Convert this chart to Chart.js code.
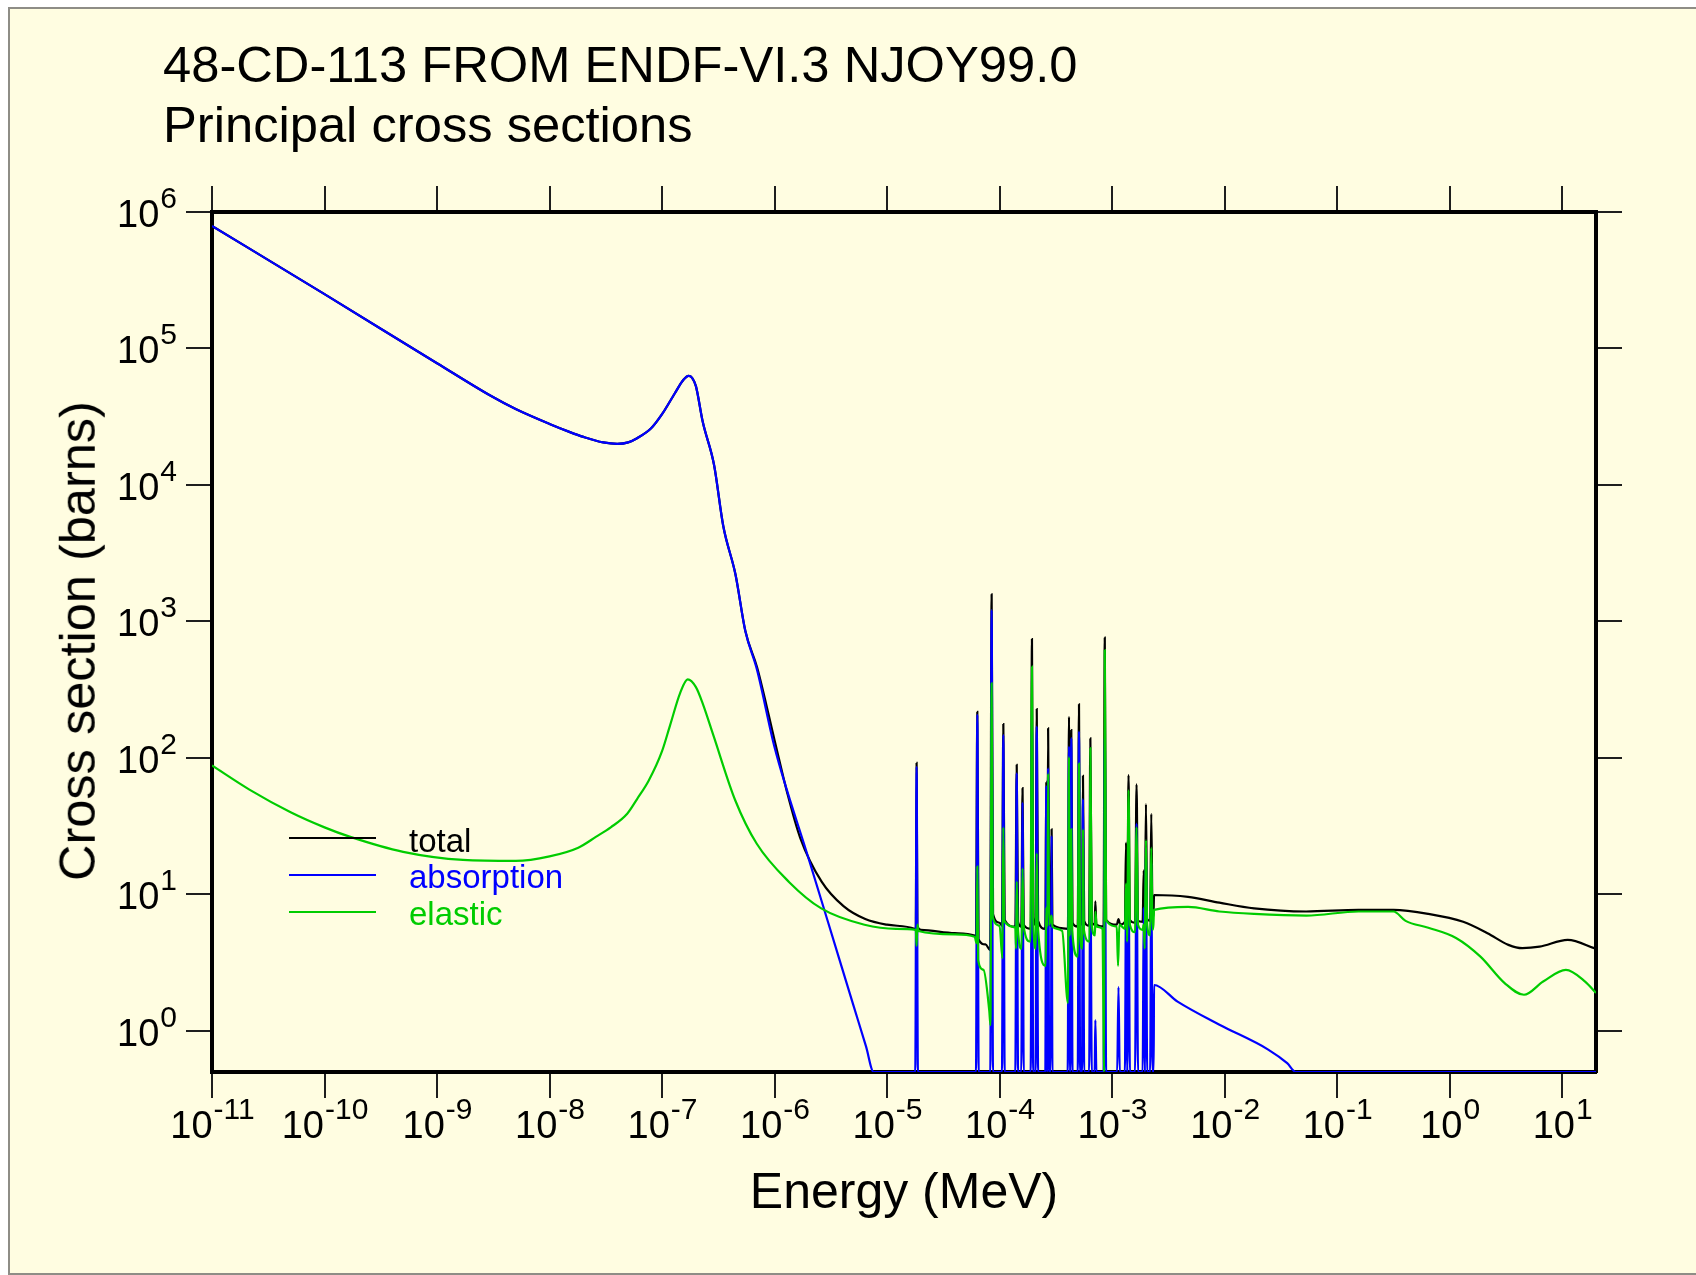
<!DOCTYPE html>
<html>
<head>
<meta charset="utf-8">
<script src="https://cdn.jsdelivr.net/npm/chart.js@4.4.1/dist/chart.umd.min.js"></script>
<style>
  body { margin: 0; background: #fff; width: 1696px; height: 1275px; overflow: hidden; position: relative;
         font-family: "Liberation Sans", Arial, sans-serif; }
  #panel { position: absolute; left: 8px; top: 7px; right: 0; bottom: 0; box-sizing: border-box;
           background: #fffde1; border-left: 2px solid #8e8d86; border-top: 2px solid #8e8d86; border-bottom: 2px solid #8e8d86; }
  #plot { position: absolute; left: 0; top: 0; }
  .txt { position: absolute; white-space: nowrap; line-height: 1; }
  .title { font-size: 50.7px; left: 163px; color: #000; }
  .leg { position: absolute; left: 289px; width: 87px; height: 2px; }
  .legtxt { font-size: 33px; left: 409px; }
</style>
</head>
<body>
<div id="panel"></div>
<canvas id="plot" width="1696" height="1275"></canvas>
<div class="txt title" style="top:40px">48-CD-113 FROM ENDF-VI.3 NJOY99.0</div>
<div class="txt title" style="top:100px">Principal cross sections</div>
<div class="txt" style="font-size:50px; left:904px; top:1166px; transform:translateX(-50%)">Energy (MeV)</div>
<div class="txt" style="font-size:50.5px; left:78px; top:641px; transform:translate(-50%,-50%) rotate(-90deg)">Cross section (barns)</div>
<div class="leg" style="top:837px; background:#000"></div>
<div class="leg" style="top:874px; background:#0000ff"></div>
<div class="leg" style="top:911px; background:#00cc00"></div>
<div class="txt legtxt" style="top:824px; color:#000">total</div>
<div class="txt legtxt" style="top:860px; color:#0000ff">absorption</div>
<div class="txt legtxt" style="top:897px; color:#00cc00">elastic</div>
<script>
// energy in MeV, cross sections in barns
const totalE = [1e-11, 1e-10, 1e-9, 3e-9, 5e-9, 1e-8, 1.5e-8, 2e-8, 3e-8, 4e-8, 5e-8, 6e-8, 8e-8, 1e-7, 1.3e-7, 1.55e-7, 1.72e-7, 1.85e-7, 2.0e-7, 2.3e-7, 2.9e-7, 3.5e-7, 4.5e-7, 5.5e-7, 7e-7, 1e-6,
  1.3e-6, 1.69e-6, 2.62e-6, 4.1e-6, 6.4e-6, 1e-5, 1.75e-5, 1.8e-5, 1.83e-5, 1.86e-5, 2.0e-5, 4e-5, 6.0e-5, 6.17e-5, 6.34e-5, 6.5e-5, 7.5e-5, 8.25e-5, 8.5e-5, 8.75e-5,
  1.0e-4, 1.05e-4, 1.08e-4, 1.11e-4, 1.38e-4, 1.42e-4, 1.46e-4, 1.56e-4, 1.60e-4, 1.64e-4, 1.89e-4, 1.94e-4, 1.99e-4, 2.09e-4, 2.14e-4, 2.2e-4,
  2.55e-4, 2.60e-4, 2.65e-4, 2.70e-4, 2.78e-4, 2.86e-4, 2.90e-4, 2.95e-4, 4.05e-4, 4.14e-4, 4.24e-4, 4.34e-4, 4.45e-4, 4.95e-4, 5.08e-4, 5.2e-4,
  5.4e-4, 5.51e-4, 5.65e-4, 6.25e-4, 6.41e-4, 6.6e-4, 7.0e-4, 7.1e-4, 7.25e-4, 8.4e-4, 8.61e-4, 8.85e-4, 1.1e-3, 1.14e-3, 1.18e-3,
  1.3e-3, 1.33e-3, 1.365e-3, 1.40e-3, 1.44e-3, 1.6e-3, 1.65e-3, 1.7e-3, 1.87e-3, 1.91e-3, 1.955e-3, 2.0e-3, 2.05e-3, 2.18e-3, 2.23e-3, 2.29e-3, 2.33e-3,
  2.36e-3, 4.73e-3, 9e-3, 1.83e-2, 5.3e-2, 0.155, 0.317, 0.647, 1.32, 2.17, 3.33, 4.43, 6.3, 11.2, 20];
const totalXS = [7.9e5, 2.5e5, 7.8e4, 4.5e4, 3.6e4, 2.8e4, 2.45e4, 2.25e4, 2.05e4, 2.0e4, 2.05e4, 2.2e4, 2.6e4, 3.3e4, 4.7e4, 5.9e4, 6.3e4, 6.1e4, 5.3e4, 2.9e4, 1.4e4, 5.0e3, 2.2e3, 850, 460, 135,
  55, 26, 12.4, 8.2, 6.6, 6.0, 5.6, 5.5, 92, 5.9, 5.5, 5.2, 5.0, 4.8, 218, 4.7, 4.3, 3.9, 1580, 7.2,
  6.2, 5.9, 177, 6.5, 5.8, 89, 6.3, 5.8, 60, 6.0, 5.6, 743, 6.8, 6.0, 228, 6.4,
  5.6, 67, 6.0, 165, 6.2, 5.9, 30, 6.0, 5.6, 200, 6.0, 160, 6.2, 5.8, 247, 6.5,
  6.0, 74, 6.4, 5.9, 139, 6.2, 6.0, 8.9, 6.0, 5.8, 760, 6.5, 6.0, 6.6, 6.0,
  6.3, 24, 6.5, 75, 6.5, 6.2, 64, 6.4, 6.3, 15, 6.5, 46, 6.6, 6.4, 39, 7.0, 6.8,
  9.9, 9.6, 8.7, 7.9, 7.5, 7.7, 7.7, 7.2, 6.3, 5.2, 4.27, 4.04, 4.14, 4.64, 4.0];

const absE = [1e-11, 1e-10, 1e-9, 3e-9, 5e-9, 1e-8, 1.5e-8, 2e-8, 3e-8, 4e-8, 5e-8, 6e-8, 8e-8, 1e-7, 1.3e-7, 1.55e-7, 1.72e-7, 1.85e-7, 2.0e-7, 2.3e-7, 2.9e-7, 3.5e-7, 4.5e-7, 5.5e-7, 7e-7, 1e-6,
  2e-6, 3e-6, 5e-6, 6.5e-6, 7.6e-6,
  1.78e-5, 1.83e-5, 1.88e-5, 6.17e-5, 6.34e-5, 6.52e-5, 8.27e-5, 8.5e-5, 8.74e-5, 1.05e-4, 1.08e-4, 1.11e-4, 1.38e-4, 1.42e-4, 1.46e-4,
  1.56e-4, 1.60e-4, 1.64e-4, 1.89e-4, 1.94e-4, 1.99e-4, 2.09e-4, 2.14e-4, 2.2e-4, 2.55e-4, 2.60e-4, 2.65e-4, 2.70e-4, 2.76e-4, 2.86e-4, 2.90e-4, 2.95e-4,
  4.03e-4, 4.14e-4, 4.24e-4, 4.34e-4, 4.45e-4, 4.95e-4, 5.08e-4, 5.2e-4, 5.4e-4, 5.51e-4, 5.65e-4, 6.25e-4, 6.41e-4, 6.6e-4, 7.0e-4, 7.1e-4, 7.25e-4,
  8.4e-4, 8.61e-4, 8.85e-4, 1.11e-3, 1.14e-3, 1.17e-3, 1.3e-3, 1.33e-3, 1.365e-3, 1.40e-3, 1.44e-3, 1.6e-3, 1.65e-3, 1.7e-3,
  1.87e-3, 1.91e-3, 1.955e-3, 2.0e-3, 2.05e-3, 2.18e-3, 2.23e-3, 2.29e-3, 2.34e-3, 2.36e-3, 3.82e-3, 9e-3, 2.44e-2, 3.6e-2, 4.3e-2, 20];
const absXS = [7.9e5, 2.5e5, 7.8e4, 4.5e4, 3.6e4, 2.8e4, 2.45e4, 2.25e4, 2.05e4, 2.0e4, 2.05e4, 2.2e4, 2.6e4, 3.3e4, 4.7e4, 5.9e4, 6.3e4, 6.1e4, 5.3e4, 2.9e4, 1.4e4, 5.0e3, 2.2e3, 850, 440, 120,
  18.5, 6.2, 1.56, 0.77, 0.5,
  0.5, 86, 0.5, 0.5, 207, 0.5, 0.5, 1210, 0.5, 0.5, 147, 0.5, 0.5, 77, 0.5,
  0.5, 47, 0.5, 0.5, 180, 0.5, 0.5, 170, 0.5, 0.5, 62, 0.5, 84, 0.5, 0.5, 27, 0.5,
  0.5, 121, 0.5, 140, 0.5, 0.5, 156, 0.5, 0.5, 50, 0.5, 0.5, 20, 0.5, 0.5, 1.2, 0.5,
  0.5, 140, 0.5, 0.5, 2.1, 0.5, 0.5, 10, 0.5, 20, 0.5, 0.5, 33, 0.5,
  0.5, 8, 0.5, 22, 0.5, 0.5, 17, 0.5, 0.5, 2.17, 1.64, 1.11, 0.73, 0.58, 0.5, 0.5];

const elasE = [1e-11, 2.15e-11, 5e-11, 1e-10, 1.67e-10, 5e-10, 1.7e-9, 5e-9, 1e-8, 1.8e-8, 2.6e-8, 3.5e-8, 4.9e-8, 6e-8, 7.6e-8, 1e-7, 1.18e-7, 1.45e-7, 1.69e-7, 2.0e-7, 2.3e-7, 2.87e-7, 4.47e-7, 6.95e-7,
  1.35e-6, 2.6e-6, 6.3e-6, 1.2e-5, 1.8e-5, 1.83e-5, 1.86e-5, 1.9e-5, 4e-5, 6.0e-5, 6.25e-5, 6.34e-5, 6.45e-5, 7.2e-5, 8.1e-5, 8.3e-5, 8.5e-5, 8.7e-5,
  1.0e-4, 1.06e-4, 1.08e-4, 1.1e-4, 1.38e-4, 1.40e-4, 1.42e-4, 1.45e-4, 1.57e-4, 1.60e-4, 1.63e-4, 1.88e-4, 1.94e-4, 1.99e-4, 2.1e-4, 2.14e-4, 2.18e-4,
  2.57e-4, 2.60e-4, 2.66e-4, 2.70e-4, 2.76e-4, 2.9e-4, 2.95e-4, 3.6e-4, 4.05e-4, 4.14e-4, 4.2e-4, 4.34e-4, 4.42e-4, 4.95e-4, 5.08e-4, 5.2e-4,
  5.45e-4, 5.51e-4, 5.62e-4, 6.3e-4, 6.41e-4, 6.6e-4, 7.05e-4, 7.1e-4, 7.3e-4, 8.2e-4, 8.5e-4, 8.61e-4, 8.85e-4, 1.1e-3, 1.13e-3, 1.16e-3,
  1.3e-3, 1.33e-3, 1.36e-3, 1.40e-3, 1.44e-3, 1.6e-3, 1.65e-3, 1.7e-3, 1.87e-3, 1.91e-3, 1.95e-3, 2.0e-3, 2.05e-3, 2.18e-3, 2.23e-3, 2.29e-3, 2.33e-3,
  2.36e-3, 4.73e-3, 8.98e-3, 1.83e-2, 5.33e-2, 0.155, 0.317, 0.406, 0.647, 1.14, 1.88, 3.1, 4.58, 6.78, 10.8, 16, 20];
const elasXS = [88, 58.6, 40, 31, 26.5, 20.5, 17.9, 17.6, 19, 22, 26.5, 31, 39, 50, 68, 112, 174, 300, 376, 330, 250, 145, 49, 23.5,
  12.3, 7.9, 6.0, 5.6, 5.5, 4.2, 6.0, 5.4, 5.1, 4.9, 4.4, 16, 3.3, 2.8, 1.4, 1.1, 352, 6.8,
  5.9, 3.4, 31, 6.4, 5.7, 4.0, 12.4, 6.0, 4.0, 15.5, 6.0, 4.5, 466, 6.8, 4.0, 20, 6.2,
  3.0, 8, 5.8, 77, 6.0, 7, 5.8, 5.4, 1.6, 102, 5.0, 30, 5.5, 3.5, 91, 5.0,
  4.0, 30, 5.5, 4.5, 118, 6.0, 5.0, 7.5, 5.8, 5.6, 0.5, 617, 6.5, 5.8, 3.0, 6.0,
  5.6, 12, 4.5, 58, 6.0, 5.3, 31, 6.0, 5.5, 6, 4.0, 25, 6.0, 5.0, 22, 5.5, 6.0,
  7.7, 8.1, 7.5, 7.2, 7.0, 7.5, 7.5, 6.4, 5.7, 4.8, 3.5, 2.23, 1.84, 2.3, 2.8, 2.3, 1.9];

const xTickExp = [-11, -10, -9, -8, -7, -6, -5, -4, -3, -2, -1, 0, 1];
const yTickExp = [0, 1, 2, 3, 4, 5, 6];

const pts = (xs, ys) => xs.map((x, i) => ({ x: x, y: ys[i] }));
const decades = exps => exps.map(e => ({ value: Math.pow(10, e) }));

const LABEL_FONT = '"Liberation Sans", Arial, sans-serif';

function axisOpts(position, exps, min, max, size) {
  return {
    type: 'logarithmic',
    position: position,
    min: min,
    max: max,
    afterBuildTicks: s => { s.ticks = decades(exps); },
    afterFit: s => { if (s.isHorizontal()) s.height = size; else s.width = size; },
    ticks: { display: false },
    grid: { drawOnChartArea: false, drawTicks: true, tickLength: 26, color: '#1e1e1e', lineWidth: 2 },
    border: { display: true, color: '#000', width: 4 }
  };
}

// draws 10^n labels with raised exponents at the decade ticks
const powerLabels = {
  id: 'powerLabels',
  afterDraw(chart) {
    const ctx = chart.ctx;
    ctx.save();
    ctx.fillStyle = '#000';
    ctx.textBaseline = 'alphabetic';
    ctx.textAlign = 'left';
    const sx = chart.scales.x, sy = chart.scales.y;
    function widths(e) {
      ctx.font = '38px ' + LABEL_FONT;
      const wb = ctx.measureText('10').width;
      ctx.font = '30px ' + LABEL_FONT;
      const we = ctx.measureText(String(e)).width;
      return [wb, we];
    }
    function put(e, x, base) {
      const [wb] = widths(e);
      ctx.font = '38px ' + LABEL_FONT;
      ctx.fillText('10', x, base);
      ctx.font = '30px ' + LABEL_FONT;
      ctx.fillText(String(e), x + wb + 1, base - 19);
    }
    xTickExp.forEach(e => {
      const px = sx.getPixelForValue(Math.pow(10, e));
      const [wb, we] = widths(e);
      put(e, px - (wb + we) / 2, 1138);
    });
    yTickExp.forEach(e => {
      const py = sy.getPixelForValue(Math.pow(10, e));
      const [wb, we] = widths(e);
      put(e, 176 - wb - we, py + 15);
    });
    ctx.restore();
  }
};

const ctx = document.getElementById('plot');
const chart = new Chart(ctx, {
  type: 'line',
  data: {
    datasets: [
      { label: 'elastic', data: pts(elasE, elasXS), borderColor: '#00cc00', order: 0 },
      { label: 'absorption', data: pts(absE, absXS), borderColor: '#0000ff', order: 1 },
      { label: 'total', data: pts(totalE, totalXS), borderColor: '#000000', order: 2 }
    ]
  },
  options: {
    responsive: false,
    animation: false,
    parsing: false,
    layout: { padding: 0 },
    elements: {
      point: { radius: 0 },
      line: { borderWidth: 2.2, cubicInterpolationMode: 'monotone', fill: false }
    },
    plugins: { legend: { display: false }, tooltip: { enabled: false }, title: { display: false } },
    scales: {
      x: axisOpts('bottom', xTickExp, 1e-11, 20, 203),
      x2: axisOpts('top', xTickExp, 1e-11, 20, 212),
      y: axisOpts('left', yTickExp, 0.5, 1e6, 212),
      y2: axisOpts('right', yTickExp, 0.5, 1e6, 100)
    }
  },
  plugins: [powerLabels]
});
</script>
</body>
</html>
